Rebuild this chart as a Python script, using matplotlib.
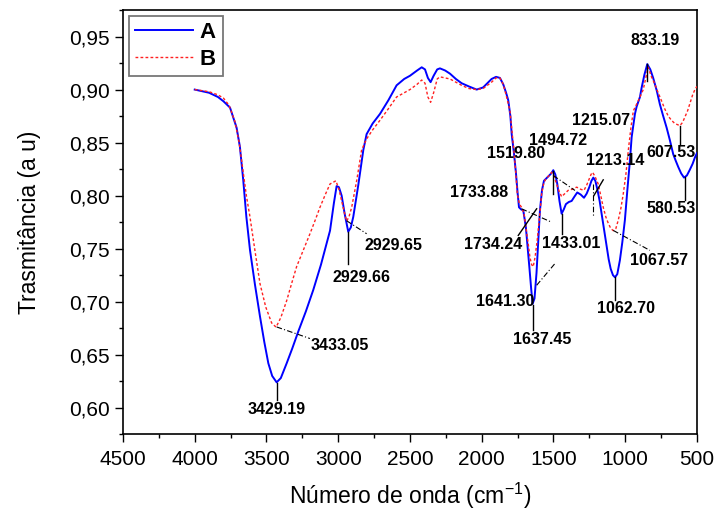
import numpy as np
import matplotlib
matplotlib.use('Agg')
import matplotlib.pyplot as plt
from matplotlib.ticker import MultipleLocator, FuncFormatter

plt.rcParams['font.family'] = ['Liberation Sans', 'DejaVu Sans']
plt.rcParams['mathtext.fontset'] = 'custom'
plt.rcParams['mathtext.rm'] = 'Liberation Sans'
plt.rcParams['mathtext.it'] = 'Liberation Sans:italic'

# espectro A (linha azul)
wn_A = [4000, 3900, 3838, 3800, 3754, 3708, 3685, 3662, 3640, 3615, 3580, 3545, 3515, 3487, 3460,
        3429, 3400, 3359, 3320, 3278, 3225, 3174, 3120, 3057, 3030, 3011, 2995, 2976, 2955, 2930,
        2912, 2895, 2860, 2825, 2802, 2760, 2709, 2650, 2593, 2540, 2500, 2450, 2418, 2395, 2375,
        2356, 2335, 2310, 2291, 2255, 2221, 2180, 2140, 2090, 2035, 1990, 1960, 1931, 1900, 1873,
        1850, 1830, 1815, 1800, 1791, 1775, 1761, 1750, 1740, 1725, 1710, 1692, 1680, 1668, 1655,
        1645, 1632, 1618, 1605, 1594, 1580, 1566, 1537, 1515, 1501, 1487, 1473, 1458, 1443, 1428,
        1413, 1393, 1373, 1354, 1334, 1310, 1287, 1268, 1250, 1235, 1222, 1208, 1194, 1178, 1164,
        1146, 1129, 1115, 1101, 1085, 1071, 1055, 1037, 1020, 1002, 985, 967, 955, 932, 920,
        897, 885, 866, 846, 825, 805, 780, 758, 735, 711, 688, 665, 648, 630, 610,
        590, 570, 551, 530, 514, 500]
T_A = [0.900, 0.897, 0.893, 0.889, 0.883, 0.864, 0.846, 0.815, 0.780, 0.749, 0.716, 0.686, 0.662, 0.642, 0.630,
       0.624, 0.628, 0.642, 0.656, 0.672, 0.691, 0.711, 0.735, 0.767, 0.793, 0.809, 0.808, 0.800, 0.783, 0.766,
       0.770, 0.780, 0.810, 0.843, 0.858, 0.868, 0.877, 0.890, 0.904, 0.910, 0.913, 0.918, 0.921, 0.919, 0.911,
       0.907, 0.913, 0.919, 0.920, 0.918, 0.915, 0.910, 0.906, 0.903, 0.900, 0.902, 0.906, 0.910, 0.912, 0.911,
       0.905, 0.897, 0.890, 0.875, 0.858, 0.840, 0.821, 0.803, 0.789, 0.787, 0.786, 0.770, 0.752, 0.733, 0.712,
       0.698, 0.703, 0.727, 0.760, 0.786, 0.805, 0.814, 0.818, 0.821, 0.824, 0.820, 0.811, 0.795, 0.783, 0.787,
       0.792, 0.794, 0.795, 0.799, 0.803, 0.801, 0.798, 0.802, 0.808, 0.814, 0.817, 0.814, 0.806, 0.795, 0.783,
       0.767, 0.752, 0.740, 0.731, 0.725, 0.723, 0.726, 0.739, 0.756, 0.777, 0.805, 0.833, 0.855, 0.877, 0.884,
       0.893, 0.902, 0.914, 0.924, 0.919, 0.911, 0.899, 0.886, 0.875, 0.864, 0.852, 0.839, 0.833, 0.827, 0.821,
       0.817, 0.819, 0.824, 0.830, 0.836, 0.840]

# espectro B (linha vermelha pontilhada)
wn_B = [4000, 3900, 3838, 3800, 3760, 3720, 3690, 3665, 3640, 3615, 3580, 3545, 3505, 3464, 3433,
        3400, 3359, 3325, 3290, 3245, 3197, 3160, 3127, 3090, 3057, 3016, 2995, 2976, 2955, 2941,
        2925, 2906, 2870, 2837, 2802, 2760, 2709, 2650, 2593, 2540, 2500, 2450, 2418, 2395, 2375,
        2356, 2335, 2310, 2291, 2255, 2221, 2180, 2140, 2090, 2035, 1990, 1960, 1931, 1900, 1873,
        1850, 1830, 1803, 1790, 1775, 1762, 1752, 1737, 1722, 1705, 1692, 1678, 1664, 1652, 1641,
        1628, 1613, 1597, 1582, 1567, 1552, 1530, 1513, 1495, 1478, 1460, 1443, 1420, 1397, 1370,
        1338, 1310, 1287, 1268, 1250, 1238, 1227, 1210, 1188, 1170, 1153, 1135, 1118, 1100, 1083,
        1065, 1048, 1030, 1013, 995, 978, 960, 943, 910, 874, 855, 839, 820, 793, 770,
        747, 725, 700, 677, 654, 619, 600, 584, 565, 551, 530, 514, 500]
T_B = [0.900, 0.898, 0.895, 0.892, 0.885, 0.870, 0.850, 0.825, 0.800, 0.780, 0.748, 0.717, 0.695, 0.680, 0.676,
       0.685, 0.701, 0.717, 0.733, 0.748, 0.764, 0.777, 0.789, 0.801, 0.811, 0.814, 0.806, 0.795, 0.783, 0.776,
       0.780, 0.789, 0.815, 0.843, 0.8535, 0.862, 0.871, 0.882, 0.893, 0.897, 0.900, 0.905, 0.909, 0.906, 0.893,
       0.888, 0.897, 0.910, 0.912, 0.911, 0.910, 0.907, 0.904, 0.901, 0.900, 0.901, 0.904, 0.907, 0.911, 0.911,
       0.905, 0.895, 0.880, 0.862, 0.842, 0.821, 0.802, 0.792, 0.789, 0.783, 0.770, 0.757, 0.742, 0.735, 0.733,
       0.742, 0.758, 0.780, 0.802, 0.812, 0.816, 0.819, 0.822, 0.818, 0.811, 0.804, 0.799, 0.802, 0.805, 0.806,
       0.808, 0.806, 0.805, 0.810, 0.816, 0.820, 0.822, 0.818, 0.811, 0.800, 0.789, 0.780, 0.774, 0.769, 0.767,
       0.769, 0.777, 0.788, 0.802, 0.820, 0.843, 0.864, 0.880, 0.889, 0.900, 0.912, 0.921, 0.913, 0.905, 0.897,
       0.8895, 0.882, 0.875, 0.871, 0.868, 0.866, 0.869, 0.874, 0.880, 0.886, 0.895, 0.900, 0.903]

# rotulos dos picos: texto, posicao do texto, segmento de ligacao, estilo
peak_labels = [
    ('3429.19', 3427, 0.598, (3429, 0.6233), (3429, 0.6073), '-'),
    ('3433.05', 2988, 0.659, (3429, 0.6762), (3197, 0.6653), '-.'),
    ('2929.66', 2841, 0.723, (2930, 0.7653), (2930, 0.7353), '-'),
    ('2929.65', 2612, 0.753, (2941, 0.7763), (2802, 0.7641), '-.'),
    ('1733.88', 2019, 0.8034, (1722, 0.7876), (1513, 0.775), '-.'),
    ('1734.24', 1922, 0.754, (1745, 0.7625), (1617, 0.7876), '-'),
    ('1641.30', 1838, 0.700, (1617, 0.7155), (1490, 0.7359), '-.'),
    ('1637.45', 1578, 0.6647, (1645, 0.6967), (1645, 0.6732), '-'),
    ('1519.80', 1761, 0.8397, (1501, 0.8190), (1350, 0.8049), '-.'),
    ('1494.72', 1469, 0.852, (1501, 0.8237), (1501, 0.802), '-'),
    ('1433.01', 1378, 0.755, (1443, 0.7829), (1443, 0.7641), '-'),
    ('1215.07', 1169, 0.8707, (1227, 0.8112), (1227, 0.7797), '-.'),
    ('1213.14', 1071, 0.833, (1218, 0.8001), (1153, 0.8149), '-'),
    ('1067.57', 765, 0.739, (1083, 0.7672), (828, 0.7484), '-.'),
    ('1062.70', 995, 0.6938, (1071, 0.7233), (1071, 0.7014), '-'),
    ('607.53', 681, 0.8406, (619, 0.866), (619, 0.8488), '-'),
    ('580.53', 681, 0.7879, (584, 0.8174), (584, 0.7955), '-'),
    ('833.19', 793, 0.946, (846, 0.924), (846, 0.9083), '-'),
]

fig = plt.figure(figsize=(7.17, 5.19), dpi=100)
ax = fig.add_axes([0.1715, 0.1632, 0.8005, 0.8175])

ax.plot(wn_A, T_A, color='#0000ff', lw=1.4, label='A', zorder=3)
ax.plot(wn_B, T_B, color='#ff2020', lw=1.0, ls=(0, (2, 1.6)), label='B', zorder=4)

for txt, tx, ty, p0, p1, st in peak_labels:
    ls = (0, (5, 2, 1, 2)) if st == '-.' else '-'
    ax.plot([p0[0], p1[0]], [p0[1], p1[1]], color='black', lw=1.0 if st == '-' else 0.8, ls=ls, zorder=5)
    ax.text(tx, ty, txt, ha='center', va='center', fontsize=11.5, fontweight='bold', zorder=6)

ax.set_xlim(4500, 500)
ax.set_ylim(0.575, 0.975)
ax.xaxis.set_major_locator(MultipleLocator(500))
ax.xaxis.set_minor_locator(MultipleLocator(250))
ax.yaxis.set_major_locator(MultipleLocator(0.05))
ax.yaxis.set_minor_locator(MultipleLocator(0.025))
ax.yaxis.set_major_formatter(FuncFormatter(lambda v, p: '{:.2f}'.format(v).replace('.', ',')))

ax.tick_params(which='major', direction='out', length=6, width=1, labelsize=15, top=False, right=False)
ax.tick_params(axis='x', which='major', pad=5)
ax.tick_params(which='minor', direction='out', length=3, width=1, top=False, right=False)
for s in ax.spines.values():
    s.set_linewidth(1.2)

ax.set_xlabel('Número de onda (cm$^{-1}$)', fontsize=16.5, labelpad=9)
ax.set_ylabel('Trasmitância (a u)', fontsize=16.5, labelpad=20)

leg = ax.legend(loc='upper left', bbox_to_anchor=(0.01, 0.987), borderaxespad=0, fancybox=False,
                handlelength=2.6, handletextpad=0.3, prop={'weight': 'bold', 'size': 16},
                borderpad=0.3, labelspacing=0.25)
leg.get_frame().set_edgecolor('#555555')
leg.get_frame().set_linewidth(1.3)

fig.savefig('out.png', dpi=100)
